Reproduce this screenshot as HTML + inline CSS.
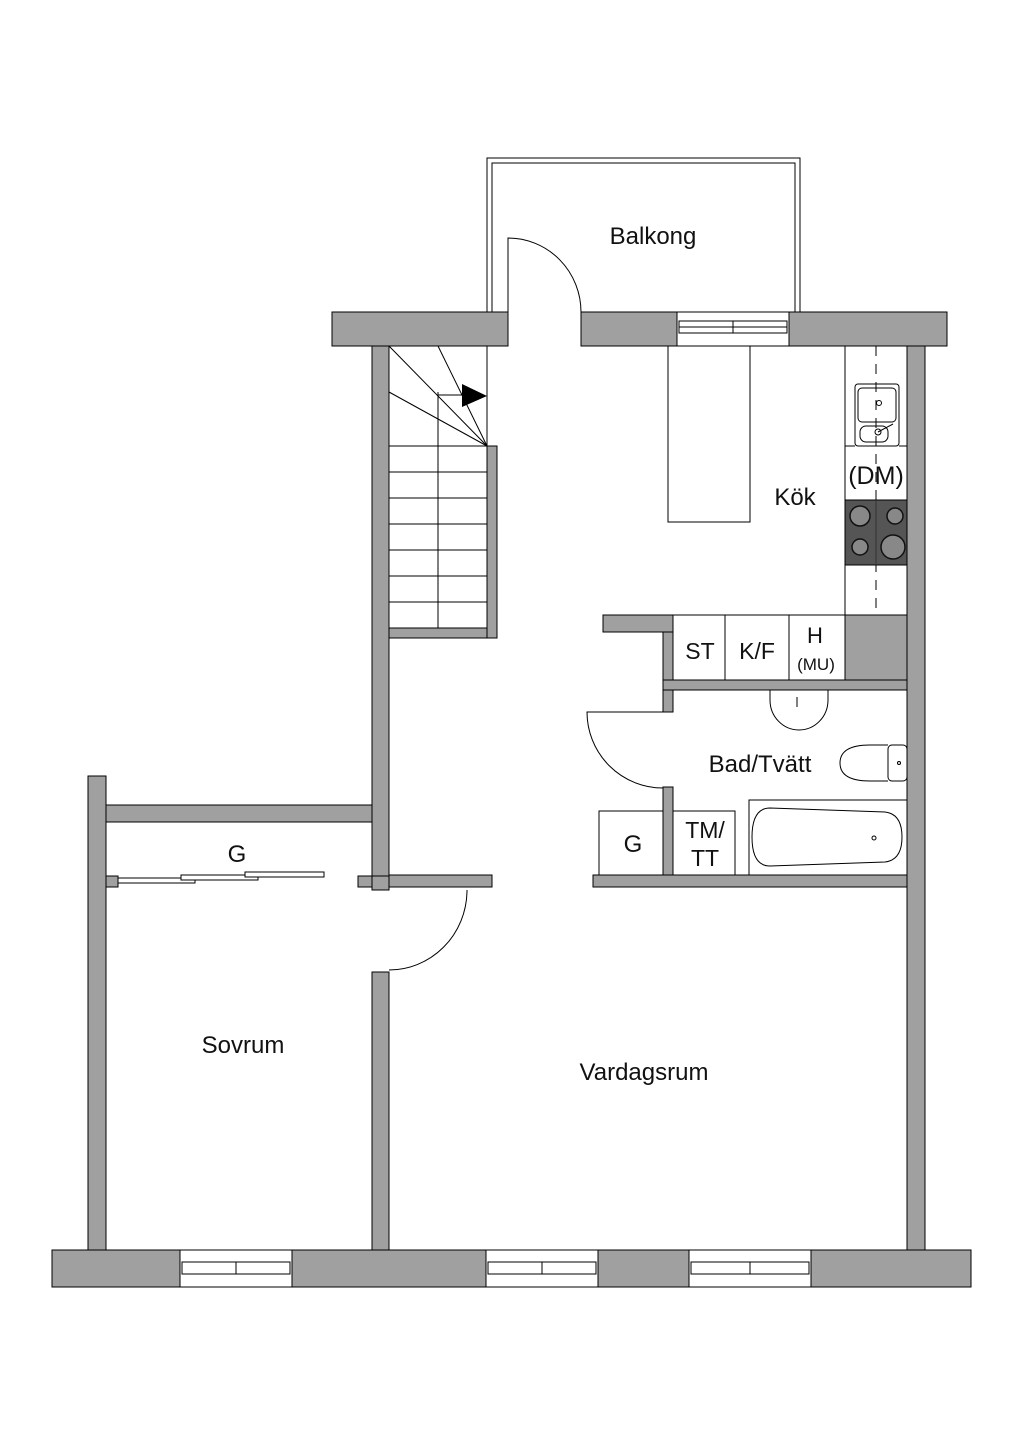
<!DOCTYPE html>
<html><head><meta charset="utf-8"><style>body{margin:0;background:#fff}svg{display:block}text{font-family:"Liberation Sans",sans-serif;fill:#111}</style></head><body>
<svg width="1024" height="1448" viewBox="0 0 1024 1448" xmlns="http://www.w3.org/2000/svg">
<g fill="#a0a0a0" stroke="#000" stroke-width="1">
<!-- top wall -->
<rect x="332" y="312" width="176" height="34"/>
<rect x="581" y="312" width="96" height="34"/>
<rect x="789" y="312" width="158" height="34"/>
<!-- right outer -->
<rect x="907" y="346" width="18" height="904"/>
<!-- bottom -->
<rect x="52" y="1250" width="919" height="37"/>
<!-- left outer -->
<rect x="88" y="776" width="18" height="474"/>
<!-- stair left wall -->
<rect x="372" y="346" width="17" height="530"/>
<rect x="372" y="972" width="17" height="278"/>
<!-- sovrum top -->
<rect x="106" y="805" width="266" height="17"/>
<!-- stair bottom/right -->
<rect x="389" y="628" width="108" height="10"/>
<rect x="487" y="446" width="10" height="192"/>
<!-- wardrobe stubs -->
<rect x="358" y="876" width="14" height="11"/>
<rect x="372" y="876" width="17" height="14"/>
<rect x="389" y="875" width="103" height="12"/>
<rect x="106" y="876" width="12" height="11"/>
<!-- kitchen lower wall -->
<rect x="603" y="615" width="70" height="17"/>
<rect x="845" y="615" width="62" height="75"/>
<rect x="663" y="632" width="10" height="80"/>
<rect x="663" y="680" width="244" height="10"/>
<rect x="663" y="787" width="10" height="88"/>
<rect x="593" y="875" width="314" height="12"/>
</g>
<g fill="#fff" stroke="#000" stroke-width="1">
<!-- windows -->
<rect x="677" y="312" width="112" height="34"/>
<rect x="180" y="1250" width="112" height="37"/>
<rect x="486" y="1250" width="112" height="37"/>
<rect x="689" y="1250" width="122" height="37"/>
</g>
<g fill="none" stroke="#000" stroke-width="1">
<rect x="679" y="321" width="54" height="12"/><rect x="733" y="321" width="54" height="12"/>
<line x1="679" y1="327" x2="787" y2="327"/>
<rect x="182" y="1262" width="54" height="12"/><rect x="236" y="1262" width="54" height="12"/>
<rect x="488" y="1262" width="54" height="12"/><rect x="542" y="1262" width="54" height="12"/>
<rect x="691" y="1262" width="59" height="12"/><rect x="750" y="1262" width="59" height="12"/>
<!-- balcony -->
<path d="M487 312 V158 H800 V312"/><path d="M492 312 V163 H795 V312"/>
<path d="M508 312 V238 A73 74 0 0 1 581 312"/>
<!-- stairs -->
<rect x="389" y="346" width="98" height="282"/>
<line x1="438" y1="392" x2="438" y2="628"/>
<line x1="438" y1="395" x2="462" y2="395"/>
<line x1="389" y1="346" x2="487" y2="446"/>
<line x1="438" y1="346" x2="487" y2="446"/>
<line x1="389" y1="392" x2="487" y2="446"/>
<line x1="389" y1="446" x2="487" y2="446"/>
<line x1="389" y1="472" x2="487" y2="472"/><line x1="389" y1="498" x2="487" y2="498"/>
<line x1="389" y1="524" x2="487" y2="524"/><line x1="389" y1="550" x2="487" y2="550"/>
<line x1="389" y1="576" x2="487" y2="576"/><line x1="389" y1="602" x2="487" y2="602"/>
<!-- island -->
<rect x="668" y="346" width="82" height="176"/>
<!-- counter -->
<rect x="845" y="346" width="62" height="269"/>
<line x1="876" y1="346" x2="876" y2="615" stroke-dasharray="10,8"/>
<line x1="845" y1="446" x2="907" y2="446" stroke-dasharray="10,8"/>
<!-- closets -->
<rect x="673" y="615" width="172" height="65"/>
<line x1="725" y1="615" x2="725" y2="680"/><line x1="789" y1="615" x2="789" y2="680"/>
<!-- bath fixtures -->
<rect x="599" y="811" width="64" height="64"/>
<rect x="673" y="811" width="62" height="64"/>
<rect x="749" y="800" width="158" height="75"/>
<path d="M770 808 Q752 808 752 837 Q752 866 770 866 L885 862 Q902 860 902 837 Q902 814 885 812 Z"/>
<circle cx="874" cy="838" r="2"/>
<path d="M770 690 V700 A29 30 0 0 0 828 700 V690"/>
<path d="M797 697 v10"/>
<path d="M888 745 H870 Q840 745 840 763 Q840 781 870 781 H888"/>
<rect x="888" y="745" width="19" height="36" rx="4"/>
<circle cx="899" cy="763" r="1.5"/>
<!-- doors -->
<path d="M663 712 H587 A76 76 0 0 0 663 788"/>
<path d="M467 890 V892 A78 80 0 0 1 389 970"/>
<!-- sliding doors -->
<rect x="118" y="878" width="77" height="5" fill="#fff"/>
<rect x="181" y="875" width="77" height="5" fill="#fff"/>
<rect x="245" y="872" width="79" height="5" fill="#fff"/>
</g>
<!-- sink -->
<g fill="none" stroke="#000" stroke-width="1">
<rect x="855" y="384" width="44" height="62" rx="3"/>
<rect x="858" y="388" width="38" height="34" rx="4"/>
<rect x="860" y="426" width="28" height="16" rx="6"/>
<circle cx="879" cy="403" r="2.5"/><circle cx="878" cy="432" r="3"/>
<line x1="878" y1="432" x2="893" y2="424"/>
</g>
<!-- stove -->
<rect x="845" y="500" width="62" height="65" fill="#555" stroke="#000"/>
<line x1="876" y1="500" x2="876" y2="565" stroke="#333"/>
<g fill="#888" stroke="#111" stroke-width="1.5">
<circle cx="860" cy="516" r="10"/><circle cx="895" cy="516" r="8"/>
<circle cx="860" cy="547" r="8"/><circle cx="893" cy="547" r="12"/>
</g>
<polygon points="462,384 487,396 462,407" fill="#000"/>
<g font-size="24">
<text x="653" y="244" text-anchor="middle">Balkong</text>
<text x="795" y="505" text-anchor="middle">Kök</text>
<text x="876" y="484" text-anchor="middle" font-size="25">(DM)</text>
<text x="700" y="659" text-anchor="middle" font-size="23">ST</text>
<text x="757" y="659" text-anchor="middle" font-size="23">K/F</text>
<text x="815" y="643" text-anchor="middle" font-size="22">H</text>
<text x="816" y="670" text-anchor="middle" font-size="17">(MU)</text>
<text x="760" y="772" text-anchor="middle">Bad/Tvätt</text>
<text x="633" y="852" text-anchor="middle">G</text>
<text x="705" y="838" text-anchor="middle" font-size="23">TM/</text>
<text x="705" y="866" text-anchor="middle" font-size="23">TT</text>
<text x="237" y="862" text-anchor="middle">G</text>
<text x="243" y="1053" text-anchor="middle">Sovrum</text>
<text x="644" y="1080" text-anchor="middle">Vardagsrum</text>
</g>
</svg>
</body></html>
